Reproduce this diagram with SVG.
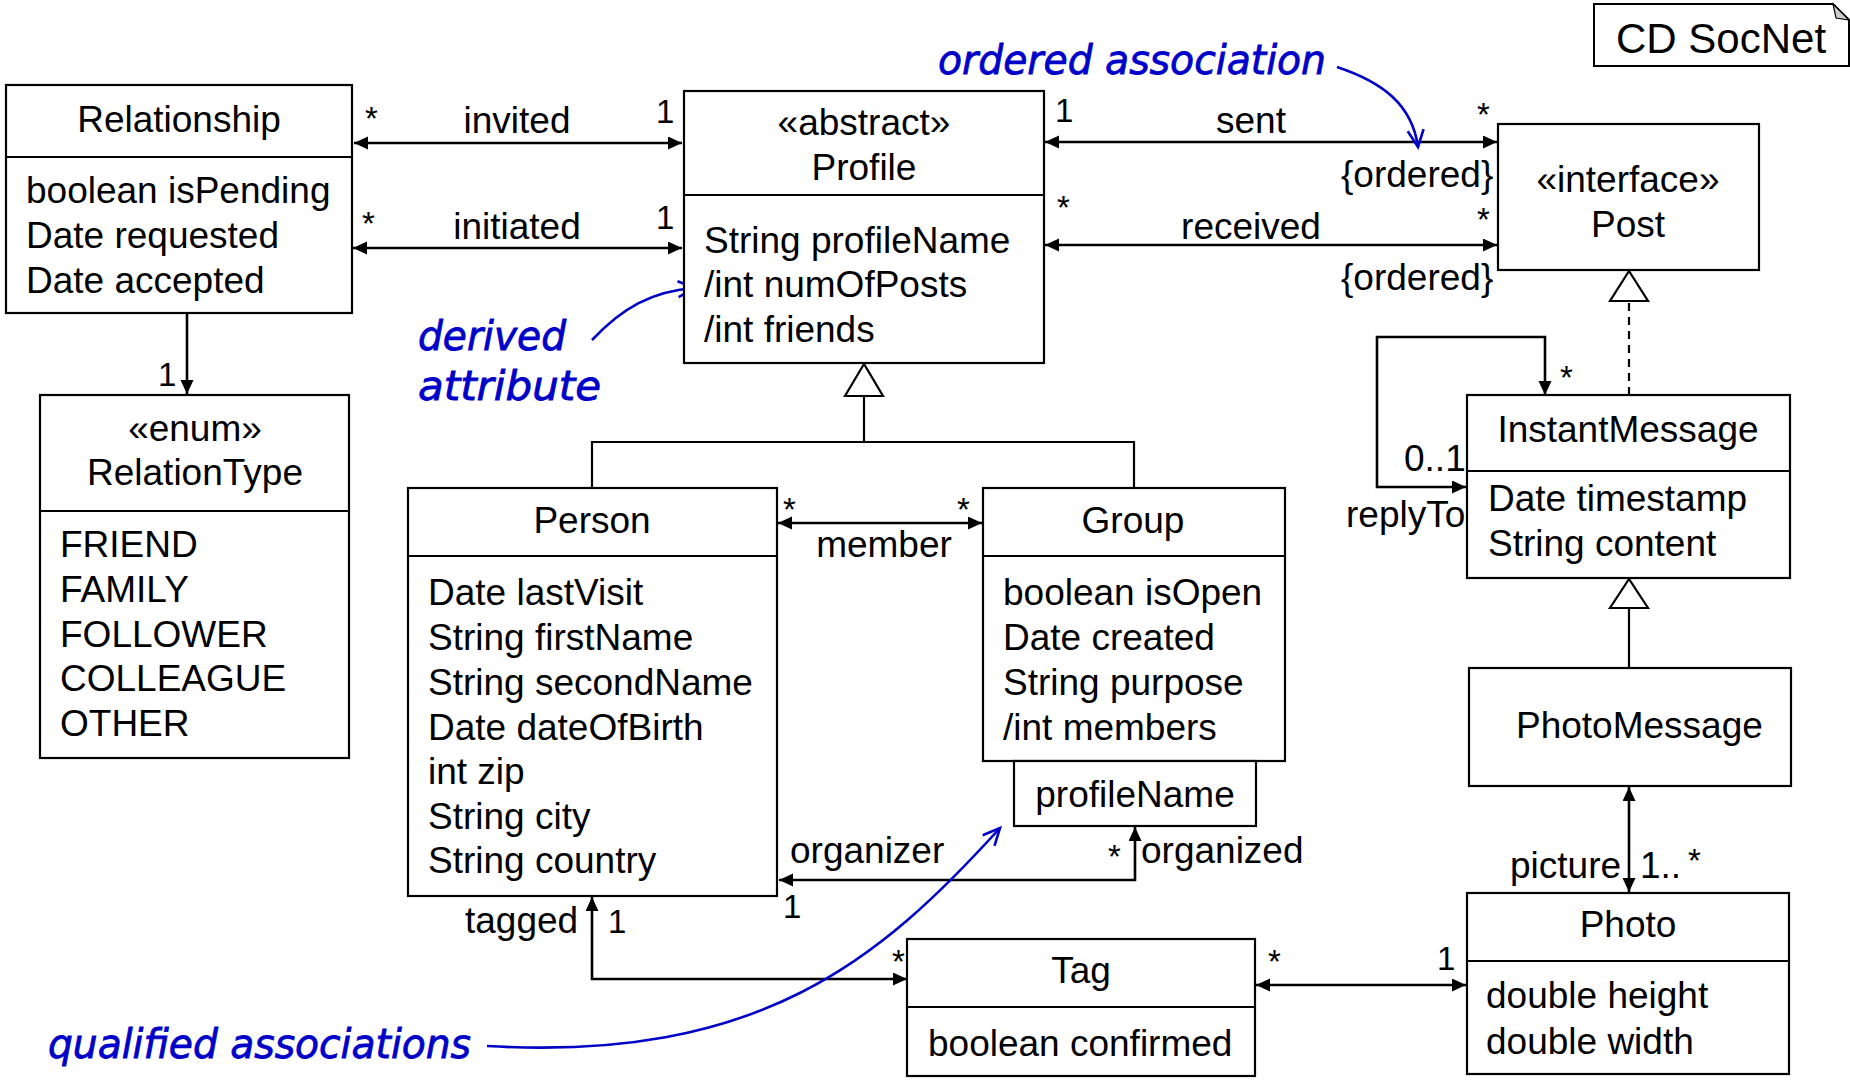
<svg xmlns="http://www.w3.org/2000/svg" width="1850" height="1081" viewBox="0 0 1850 1081">
  <style>
    .box { fill: #ffffff; stroke: #000000; stroke-width: 2.2; }
    .div { stroke: #000000; stroke-width: 2.2; fill: none; }
    .t { font-family: "Liberation Sans", Arial, sans-serif; font-size: 37px; fill: #000000; }
    .c { text-anchor: middle; }
    .m { font-family: "Liberation Sans", Arial, sans-serif; font-size: 33px; fill: #000000; }
    .assoc { stroke: #000000; stroke-width: 2.6; fill: none; marker-start: url(#ah); marker-end: url(#ah); }
    .one { stroke: #000000; stroke-width: 2.6; fill: none; marker-end: url(#ah); }
    .gen { stroke: #000000; stroke-width: 2.2; fill: none; }
    .tri { fill: #ffffff; stroke: #000000; stroke-width: 2.2; }
    .note { font-family: "DejaVu Sans", "Liberation Sans", sans-serif; font-style: italic; font-size: 40px; fill: #0000c8; stroke: #0000c8; stroke-width: 0.8; }
    .blue { stroke: #0000c8; stroke-width: 2.6; fill: none; marker-end: url(#vh); }
  </style>
  <defs>
    <marker id="ah" markerUnits="userSpaceOnUse" markerWidth="16" markerHeight="14" refX="14" refY="6.5" orient="auto-start-reverse">
      <path d="M0,0 L14,6.5 L0,13 Z" fill="#000000"/>
    </marker>
    <marker id="vh" markerUnits="userSpaceOnUse" markerWidth="22" markerHeight="22" refX="18" refY="9" orient="auto">
      <path d="M1,1 L18,9 L1,17" fill="none" stroke="#0000c8" stroke-width="2.6"/>
    </marker>
  </defs>

  <!-- connectors -->
  <g id="connectors">
    <!-- invited / initiated -->
    <line class="assoc" x1="354" y1="143" x2="682" y2="143"/>
    <line class="assoc" x1="353" y1="248" x2="682" y2="248"/>
    <!-- Relationship -> RelationType -->
    <line class="one" x1="187" y1="313" x2="187" y2="394"/>
    <!-- sent / received -->
    <line class="assoc" x1="1045" y1="142" x2="1497" y2="142"/>
    <line class="assoc" x1="1045" y1="245" x2="1497" y2="245"/>
    <!-- generalization Person, Group -> Profile -->
    <polyline class="gen" points="592,488 592,442 1134,442 1134,488"/>
    <line class="gen" x1="864" y1="442" x2="864" y2="396"/>
    <polygon class="tri" points="864,364 845,396 883,396"/>
    <!-- member -->
    <line class="assoc" x1="778" y1="523" x2="982" y2="523"/>
    <!-- organizer / organized -->
    <polyline class="assoc" points="779,880 1135,880 1135,827"/>
    <!-- tagged -->
    <polyline class="assoc" points="592,897 592,979 907,979"/>
    <!-- Tag - Photo -->
    <line class="assoc" x1="1256" y1="985" x2="1466" y2="985"/>
    <!-- PhotoMessage - Photo -->
    <line class="assoc" x1="1629" y1="787" x2="1629" y2="892"/>
    <!-- InstantMessage realizes Post -->
    <line x1="1629" y1="395" x2="1629" y2="301" stroke="#000000" stroke-width="2.2" stroke-dasharray="8,6"/>
    <polygon class="tri" points="1629,271 1610,301 1648,301"/>
    <!-- PhotoMessage -> InstantMessage -->
    <line class="gen" x1="1629" y1="668" x2="1629" y2="608"/>
    <polygon class="tri" points="1629,579 1610,608 1648,608"/>
    <!-- replyTo self association -->
    <polyline class="assoc" points="1466,487 1377,487 1377,337 1545,337 1545,395"/>
  </g>

  <!-- annotations -->
  <g id="annotations">
    <text class="note" x="938" y="74" textLength="388" lengthAdjust="spacingAndGlyphs">ordered association</text>
    <path class="blue" d="M1337,67 C1382,82 1412,104 1418,147"/>
    <text class="note" x="418" y="350" textLength="148" lengthAdjust="spacingAndGlyphs">derived</text>
    <text class="note" x="418" y="400" textLength="183" lengthAdjust="spacingAndGlyphs">attribute</text>
    <path class="blue" d="M592,340 C622,308 652,291 695,288"/>
    <text class="note" x="48" y="1058" textLength="423" lengthAdjust="spacingAndGlyphs">qualified associations</text>
    <path class="blue" d="M487,1046 C760,1062 880,960 1000,828"/>
  </g>

  <!-- connector labels -->
  <g id="labels">
    <text class="m" x="365" y="130">*</text>
    <text class="t c" x="517" y="133">invited</text>
    <text class="m" x="656" y="123">1</text>
    <text class="m" x="362" y="235">*</text>
    <text class="t c" x="517" y="239">initiated</text>
    <text class="m" x="656" y="229">1</text>
    <text class="m" x="158" y="386">1</text>
    <text class="m" x="1055" y="122">1</text>
    <text class="t c" x="1251" y="133">sent</text>
    <text class="m" x="1477" y="126">*</text>
    <text class="t" x="1341" y="187">{ordered}</text>
    <text class="m" x="1057" y="219">*</text>
    <text class="t c" x="1251" y="239">received</text>
    <text class="m" x="1477" y="231">*</text>
    <text class="t" x="1341" y="290">{ordered}</text>
    <text class="m" x="783" y="521">*</text>
    <text class="m" x="957" y="521">*</text>
    <text class="t c" x="884" y="557">member</text>
    <text class="t" x="790" y="863">organizer</text>
    <text class="m" x="783" y="918">1</text>
    <text class="m" x="1108" y="868">*</text>
    <text class="t" x="1141" y="863">organized</text>
    <text class="t" x="465" y="933">tagged</text>
    <text class="m" x="608" y="933">1</text>
    <text class="m" x="892" y="973">*</text>
    <text class="m" x="1268" y="973">*</text>
    <text class="m" x="1437" y="970">1</text>
    <text class="t" x="1510" y="878">picture</text>
    <text class="t" x="1640" y="878">1..</text>
    <text class="m" x="1688" y="872">*</text>
    <text class="m" x="1560" y="389">*</text>
    <text class="t" x="1404" y="471">0..1</text>
    <text class="t" x="1346" y="527">replyTo</text>
  </g>

  <!-- title note -->
  <g id="title">
    <path d="M1594,4 H1833 L1849,20 V66 H1594 Z" fill="#ffffff" stroke="#000000" stroke-width="2"/>
    <path d="M1833,4 L1836,18 L1849,20 Z" fill="#cccccc" stroke="#000000" stroke-width="1.2"/>
    <text class="t" x="1616" y="53" style="font-size:42px">CD SocNet</text>
  </g>

  <g id="Relationship">
    <rect class="box" x="6" y="85" width="346" height="228"/>
    <line class="div" x1="6" y1="157" x2="352" y2="157"/>
    <text class="t c" x="179" y="132">Relationship</text>
    <text class="t" x="26" y="203">boolean isPending</text>
    <text class="t" x="26" y="248">Date requested</text>
    <text class="t" x="26" y="293">Date accepted</text>
  </g>

  <g id="RelationType">
    <rect class="box" x="40" y="395" width="309" height="363"/>
    <line class="div" x1="40" y1="511" x2="349" y2="511"/>
    <text class="t c" x="195" y="441">«enum»</text>
    <text class="t c" x="195" y="485">RelationType</text>
    <text class="t" x="60" y="557">FRIEND</text>
    <text class="t" x="60" y="602">FAMILY</text>
    <text class="t" x="60" y="647">FOLLOWER</text>
    <text class="t" x="60" y="691">COLLEAGUE</text>
    <text class="t" x="60" y="736">OTHER</text>
  </g>

  <g id="Profile">
    <rect class="box" x="684" y="91" width="360" height="272"/>
    <line class="div" x1="684" y1="195" x2="1044" y2="195"/>
    <text class="t c" x="864" y="135">«abstract»</text>
    <text class="t c" x="864" y="180">Profile</text>
    <text class="t" x="704" y="253">String profileName</text>
    <text class="t" x="704" y="297">/int numOfPosts</text>
    <text class="t" x="704" y="342">/int friends</text>
  </g>

  <g id="Post">
    <rect class="box" x="1498" y="124" width="261" height="146"/>
    <text class="t c" x="1628" y="192">«interface»</text>
    <text class="t c" x="1628" y="237">Post</text>
  </g>

  <g id="Person">
    <rect class="box" x="408" y="488" width="369" height="408"/>
    <line class="div" x1="408" y1="556" x2="777" y2="556"/>
    <text class="t c" x="592" y="533">Person</text>
    <text class="t" x="428" y="605">Date lastVisit</text>
    <text class="t" x="428" y="650">String firstName</text>
    <text class="t" x="428" y="695">String secondName</text>
    <text class="t" x="428" y="740">Date dateOfBirth</text>
    <text class="t" x="428" y="784">int zip</text>
    <text class="t" x="428" y="829">String city</text>
    <text class="t" x="428" y="873">String country</text>
  </g>

  <g id="Group">
    <rect class="box" x="983" y="488" width="302" height="273"/>
    <line class="div" x1="983" y1="556" x2="1285" y2="556"/>
    <text class="t c" x="1133" y="533">Group</text>
    <text class="t" x="1003" y="605">boolean isOpen</text>
    <text class="t" x="1003" y="650">Date created</text>
    <text class="t" x="1003" y="695">String purpose</text>
    <text class="t" x="1003" y="740">/int members</text>
  </g>

  <g id="GroupQualifier">
    <rect class="box" x="1014" y="761" width="242" height="65"/>
    <text class="t c" x="1135" y="807">profileName</text>
  </g>

  <g id="InstantMessage">
    <rect class="box" x="1467" y="395" width="323" height="183"/>
    <line class="div" x1="1467" y1="471" x2="1790" y2="471"/>
    <text class="t c" x="1628" y="442">InstantMessage</text>
    <text class="t" x="1488" y="511">Date timestamp</text>
    <text class="t" x="1488" y="556">String content</text>
  </g>

  <g id="PhotoMessage">
    <rect class="box" x="1469" y="668" width="322" height="118"/>
    <text class="t" x="1516" y="738">PhotoMessage</text>
  </g>

  <g id="Photo">
    <rect class="box" x="1467" y="893" width="322" height="181"/>
    <line class="div" x1="1467" y1="961" x2="1789" y2="961"/>
    <text class="t c" x="1628" y="937">Photo</text>
    <text class="t" x="1486" y="1008">double height</text>
    <text class="t" x="1486" y="1054">double width</text>
  </g>

  <g id="Tag">
    <rect class="box" x="907" y="939" width="348" height="137"/>
    <line class="div" x1="907" y1="1007" x2="1255" y2="1007"/>
    <text class="t c" x="1081" y="983">Tag</text>
    <text class="t" x="928" y="1056">boolean confirmed</text>
  </g>
</svg>
